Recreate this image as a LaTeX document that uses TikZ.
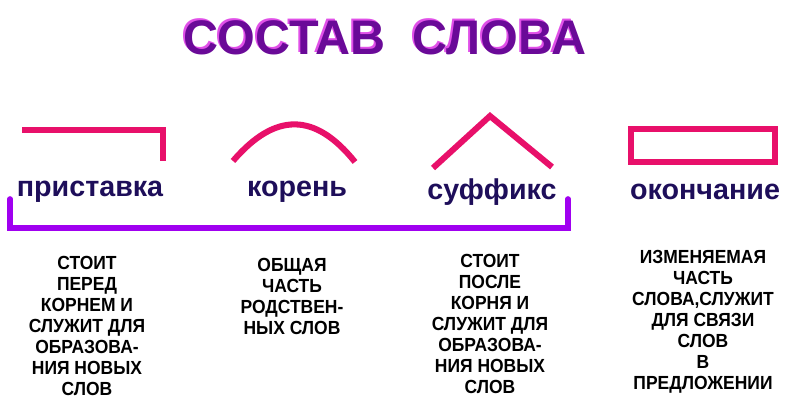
\documentclass[tikz,border=0pt]{standalone}
\usepackage{fontspec}
\setmainfont{Liberation Sans}
\newfontfamily\narrowfont[FakeStretch=0.92]{Liberation Sans}
\usepackage{tikz}
\definecolor{mark}{HTML}{E8106A}
\definecolor{brace}{HTML}{A000F0}
\definecolor{titlepurple}{HTML}{6A0A98}
\definecolor{titleshade}{HTML}{E050E8}
\definecolor{partblue}{HTML}{1E0E5A}
\tikzset{
  morph/.style={draw=mark, line width=4.3pt},
  part/.style={font=\fontsize{20.4}{20.4}\selectfont\bfseries, text=partblue},
  note/.style={font=\narrowfont\fontsize{13.5}{15}\selectfont\bfseries, align=center, anchor=north}
}

\begin{document}
\begin{tikzpicture}[x=0.025cm, y=-0.025cm]
\useasboundingbox (0,0) rectangle (800,410);
% title
\node[text=titleshade, font=\fontsize{34.5}{34.5}\selectfont\bfseries] at (383,36) {СОСТАВ\ \ СЛОВА};
\node[text=titlepurple, font=\fontsize{34.5}{34.5}\selectfont\bfseries] (title) at (385,38) {СОСТАВ\ \ СЛОВА};
% signs of the morphemes
\draw[morph] (22,130)--(163,130)--(163,161);
\draw[morph] (233,161) .. controls (275,112) and (315,112) .. (355,162);
\draw[morph] (433,168)--(490,116)--(552,167);
\draw[morph] (631,129) rectangle (775,162);
% names
\node[part] (prist) at (90,192) {приставка};
\node[part] (koren) at (297,192) {корень};
\node[part] (suff) at (492,192) {суффикс};
\node[part] (okon) at (705,192) {окончание};
% the stem
\draw[draw=brace, line width=4pt, line cap=round] (10,199)--(10,228)--(568,228)--(568,199);
% what they do
\node[note] (n1) at (87,251) {СТОИТ\\ПЕРЕД\\КОРНЕМ И\\СЛУЖИТ ДЛЯ\\ОБРАЗОВА-\\НИЯ НОВЫХ\\СЛОВ};
\node[note] (n2) at (292,253) {ОБЩАЯ\\ЧАСТЬ\\РОДСТВЕН-\\НЫХ СЛОВ};
\node[note] (n3) at (490,249) {СТОИТ\\ПОСЛЕ\\КОРНЯ И\\СЛУЖИТ ДЛЯ\\ОБРАЗОВА-\\НИЯ НОВЫХ\\СЛОВ};
\node[note] (n4) at (703,245) {ИЗМЕНЯЕМАЯ\\ЧАСТЬ\\СЛОВА,СЛУЖИТ\\ДЛЯ СВЯЗИ\\СЛОВ\\В\\ПРЕДЛОЖЕНИИ};
\end{tikzpicture}
\end{document}
